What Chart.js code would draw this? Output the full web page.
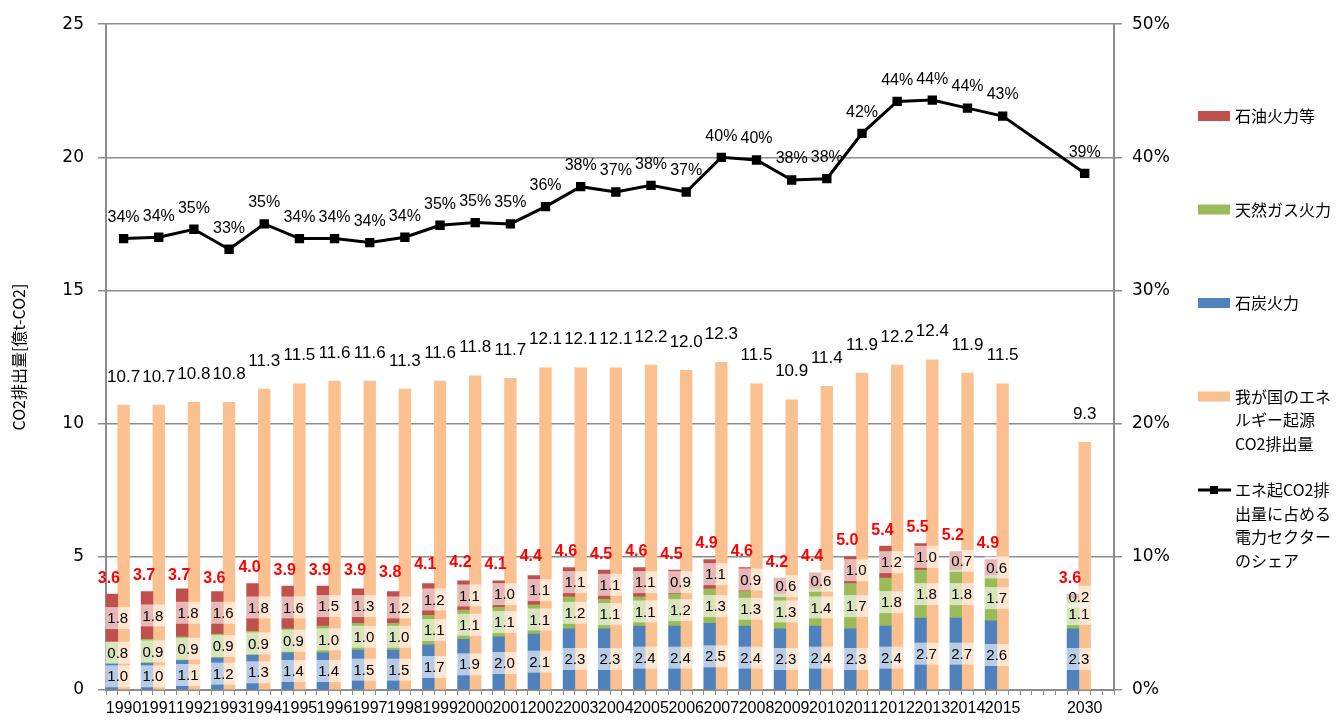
<!DOCTYPE html>
<html>
<head>
<meta charset="utf-8">
<script src="https://cdn.jsdelivr.net/npm/chart.js@4.4.1/dist/chart.umd.min.js"></script>
<style>
  html, body { margin: 0; padding: 0; background: #fff; }
  #wrap { width: 1341px; height: 722px; }
</style>
</head>
<body>
<div id="wrap"><canvas id="c" width="1341" height="722"></canvas></div>
<script>
// 年 (2015の後は2030まで空ける)
const years = ['1990','1991','1992','1993','1994','1995','1996','1997','1998','1999',
  '2000','2001','2002','2003','2004','2005','2006','2007','2008','2009',
  '2010','2011','2012','2013','2014','2015','2030'];

// 電力セクターの内訳 [億t-CO2]
const coal = [1.0,1.0,1.1,1.2,1.3,1.4,1.4,1.5,1.5,1.7,1.9,2.0,2.1,2.3,2.3,2.4,2.4,2.5,2.4,2.3,2.4,2.3,2.4,2.7,2.7,2.6,2.3];
const gas  = [0.8,0.9,0.9,0.9,0.9,0.9,1.0,1.0,1.0,1.1,1.1,1.1,1.1,1.2,1.1,1.1,1.2,1.3,1.3,1.3,1.4,1.7,1.8,1.8,1.8,1.7,1.1];
const oil  = [1.8,1.8,1.8,1.6,1.8,1.6,1.5,1.3,1.2,1.2,1.1,1.0,1.1,1.1,1.1,1.1,0.9,1.1,0.9,0.6,0.6,1.0,1.2,1.0,0.7,0.6,0.2];
// 火力合計 (赤字ラベル)
const thermalTotal = [3.6,3.7,3.7,3.6,4.0,3.9,3.9,3.9,3.8,4.1,4.2,4.1,4.4,4.6,4.5,4.6,4.5,4.9,4.6,4.2,4.4,5.0,5.4,5.5,5.2,4.9,3.6];
// 我が国のエネルギー起源CO2排出量
const energyCO2 = [10.7,10.7,10.8,10.8,11.3,11.5,11.6,11.6,11.3,11.6,11.8,11.7,12.1,12.1,12.1,12.2,12.0,12.3,11.5,10.9,11.4,11.9,12.2,12.4,11.9,11.5,9.3];
// 電力セクターのシェア [%]
const powerShare = [33.9,34.0,34.6,33.1,35.0,33.9,33.9,33.6,34.0,34.9,35.1,35.0,36.3,37.8,37.4,37.9,37.4,40.0,39.8,38.3,38.4,41.8,44.2,44.3,43.7,43.1,38.8];

const seriesNames = ['石炭火力','天然ガス火力','石油火力等','我が国のエネルギー起源CO2排出量','エネ起CO2排出量に占める電力セクターのシェア'];

const colCoal = '#4F81BD', colGas = '#9BBB59', colOil = '#C0504D', colTotal = '#FAC090';
const gridCol = '#8c8c8c';
const labelFont = '"Liberation Sans", Arial, sans-serif';
const jpFont = '"Noto Sans CJK JP", "Noto Sans", sans-serif';

// 1年につき3スロット (内訳, 合計, 空き)、2030の前に4スロット空ける
const slotCount = 86;
function slotOf(i) { return 3 * i + (years[i] === '2030' ? 4 : 0); }

const xLabels = new Array(slotCount).fill('');
const coalS = new Array(slotCount).fill(null);
const gasS = new Array(slotCount).fill(null);
const oilS = new Array(slotCount).fill(null);
const totalS = new Array(slotCount).fill(null);
const shareS = new Array(slotCount).fill(null);
years.forEach((y, i) => {
  const s = slotOf(i);
  xLabels[s + 1] = y;
  coalS[s] = coal[i];
  gasS[s] = gas[i];
  oilS[s] = oil[i];
  totalS[s + 1] = energyCO2[i];
  shareS[s + 1] = powerShare[i];
});

// データラベル
const labelPlugin = {
  id: 'labels',
  afterDatasetsDraw(chart) {
    const ctx = chart.ctx;
    const yScale = chart.scales.y;
    ctx.save();
    ctx.textAlign = 'center';
    ctx.textBaseline = 'middle';

    // 内訳の値 (半透明の白い箱つき)
    ctx.font = '15px ' + labelFont;
    [0, 1, 2].forEach(di => {
      const meta = chart.getDatasetMeta(di);
      const arr = [coal, gas, oil][di];
      years.forEach((y, i) => {
        const el = meta.data[slotOf(i)];
        const txt = arr[i].toFixed(1);
        const cx = el.x + el.width / 2;
        const cy = (el.y + el.base) / 2;
        const w = ctx.measureText(txt).width + 4;
        ctx.fillStyle = 'rgba(255,255,255,0.6)';
        ctx.fillRect(cx - w / 2, cy - 11, w, 22);
        ctx.fillStyle = '#000';
        ctx.fillText(txt, cx, cy + 1);
      });
    });

    // 火力合計 (赤)
    ctx.font = 'bold 16px ' + labelFont;
    ctx.fillStyle = '#FF0000';
    const oilMeta = chart.getDatasetMeta(2);
    years.forEach((y, i) => {
      const el = oilMeta.data[slotOf(i)];
      ctx.fillText(thermalTotal[i].toFixed(1), el.x - 3, yScale.getPixelForValue(thermalTotal[i]) - 16);
    });

    // エネルギー起源CO2
    ctx.font = '17px ' + labelFont;
    ctx.fillStyle = '#000';
    const totMeta = chart.getDatasetMeta(3);
    years.forEach((y, i) => {
      const el = totMeta.data[slotOf(i) + 1];
      ctx.fillText(energyCO2[i].toFixed(1), el.x, el.y - 28);
    });

    // シェア
    ctx.font = '16px ' + labelFont;
    const lineMeta = chart.getDatasetMeta(4);
    years.forEach((y, i) => {
      const el = lineMeta.data[slotOf(i) + 1];
      ctx.fillText(Math.round(powerShare[i]) + '%', el.x, el.y - 21);
    });
    ctx.restore();
  }
};

// 凡例 (右側)
const legendPlugin = {
  id: 'sideLegend',
  afterDraw(chart) {
    const ctx = chart.ctx;
    const items = [
      { color: colOil, lines: ['石油火力等'] },
      { color: colGas, lines: ['天然ガス火力'] },
      { color: colCoal, lines: ['石炭火力'] },
      { color: colTotal, lines: ['我が国のエネ', 'ルギー起源', 'CO2排出量'] },
      { line: true, lines: ['エネ起CO2排', '出量に占める', '電力セクター', 'のシェア'] }
    ];
    ctx.save();
    ctx.font = '16px ' + jpFont;
    ctx.textBaseline = 'middle';
    ctx.textAlign = 'left';
    items.forEach((it, k) => {
      const y = 116 + k * 93.5;
      if (it.line) {
        ctx.strokeStyle = '#000';
        ctx.lineWidth = 3;
        ctx.beginPath();
        ctx.moveTo(1198, y);
        ctx.lineTo(1231, y);
        ctx.stroke();
        ctx.fillStyle = '#000';
        ctx.fillRect(1210, y - 4, 8, 8);
      } else {
        ctx.fillStyle = it.color;
        ctx.fillRect(1198, y - 5, 32, 10);
      }
      ctx.fillStyle = '#000';
      it.lines.forEach((t, j) => ctx.fillText(t, 1235, y + j * 23.5));
    });
    ctx.restore();
  }
};

const ctx = document.getElementById('c').getContext('2d');
const chart = new Chart(ctx, {
  data: {
    labels: xLabels,
    datasets: [
      { type: 'bar', label: seriesNames[0], data: coalS, backgroundColor: colCoal, order: 2 },
      { type: 'bar', label: seriesNames[1], data: gasS, backgroundColor: colGas, order: 2 },
      { type: 'bar', label: seriesNames[2], data: oilS, backgroundColor: colOil, order: 2 },
      { type: 'bar', label: seriesNames[3], data: totalS, backgroundColor: colTotal, order: 2 },
      {
        type: 'line', label: seriesNames[4], data: shareS, yAxisID: 'y1',
        borderColor: '#000', borderWidth: 3, pointStyle: 'rect', pointRadius: 4.5,
        pointBackgroundColor: '#000', pointBorderColor: '#000', spanGaps: true,
        tension: 0, order: 0
      }
    ]
  },
  options: {
    responsive: false,
    devicePixelRatio: 1,
    animation: false,
    datasets: { bar: { barPercentage: 1, categoryPercentage: 1 } },
    layout: { padding: { top: 18, right: 150, left: 0, bottom: 0 } },
    plugins: { legend: { display: false }, tooltip: { enabled: false } },
    scales: {
      x: {
        stacked: true,
        offset: true,
        grid: { display: true, drawOnChartArea: false, drawTicks: true, tickLength: 5, color: gridCol, offset: true },
        border: { color: gridCol, width: 2 },
        ticks: { autoSkip: false, maxRotation: 0, minRotation: 0, padding: 4, color: '#000', font: { family: labelFont, size: 16 } },
        afterFit(s) { s.height = 32; }
      },
      y: {
        stacked: true,
        min: 0, max: 25,
        ticks: { stepSize: 5, padding: 14, color: '#000', font: { family: '"DejaVu Sans", sans-serif', size: 17 } },
        grid: { color: gridCol, lineWidth: 1.5, tickLength: 8 },
        border: { color: gridCol, width: 2 },
        title: { display: true, text: 'CO2排出量[億t-CO2]', color: '#000', padding: { top: 9, bottom: 4 }, font: { family: jpFont, size: 16 } },
        afterFit(s) { s.width = 106; }
      },
      y1: {
        position: 'right',
        min: 0, max: 50,
        ticks: { stepSize: 10, padding: 10, color: '#000', callback: v => v + '%', font: { family: '"DejaVu Sans", sans-serif', size: 17 } },
        grid: { drawOnChartArea: false, tickLength: 8, color: gridCol, lineWidth: 1.5 },
        border: { color: gridCol, width: 2 },
        afterFit(s) { s.width = 77; }
      }
    }
  },
  plugins: [labelPlugin, legendPlugin]
});
</script>
</body>
</html>
